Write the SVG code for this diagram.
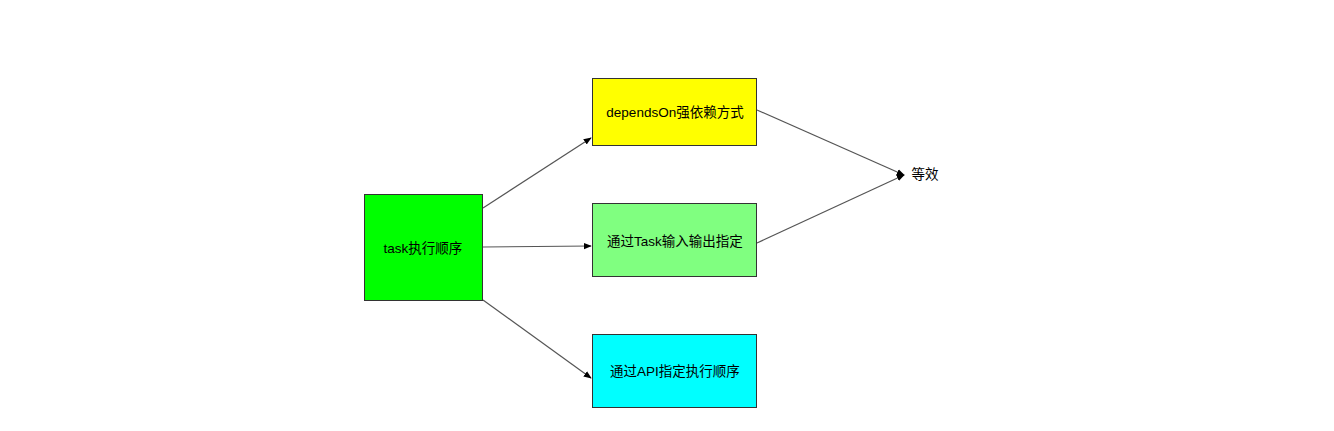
<svg xmlns="http://www.w3.org/2000/svg" width="1334" height="431" viewBox="0 0 1334 431">
<style>
.n{stroke:#333;stroke-width:1}
.t{font-family:"Liberation Sans","Noto Sans CJK SC",sans-serif;font-size:13.5px;fill:#000;text-anchor:middle;dominant-baseline:central}
.c{stroke:#555;stroke-width:1.2;fill:none;marker-end:url(#ah)}
</style>
<defs>
<marker id="ah" viewBox="0 0 10 10" refX="9" refY="5" markerWidth="8" markerHeight="8" markerUnits="userSpaceOnUse" orient="auto">
<path d="M0,1 L10,5 L0,9 Z" fill="#000"/>
</marker>
</defs>
<rect width="1334" height="431" fill="#fff"/>
<g id="connectors">
<line class="c" x1="483" y1="208" x2="591" y2="138"/>
<line class="c" x1="483" y1="247" x2="591" y2="246"/>
<line class="c" x1="483" y1="300" x2="591" y2="378"/>
<line class="c" x1="757" y1="110" x2="904" y2="175"/>
<line class="c" x1="757" y1="243" x2="904" y2="175"/>
</g>
<g id="task">
<rect class="n" x="364.5" y="194.5" width="118" height="106" fill="#00ff00"/>
<text class="t" x="423" y="248">task执行顺序</text>
</g>
<g id="dependsOn">
<rect class="n" x="592.5" y="78.5" width="164" height="67" fill="#ffff00"/>
<text class="t" x="675" y="112">dependsOn强依赖方式</text>
</g>
<g id="io">
<rect class="n" x="592.5" y="203.5" width="164" height="73" fill="#80ff80"/>
<text class="t" x="675" y="241">通过Task输入输出指定</text>
</g>
<g id="api">
<rect class="n" x="592.5" y="334.5" width="164" height="73" fill="#00ffff"/>
<text class="t" x="675" y="371">通过API指定执行顺序</text>
</g>
<g id="equal">
<text class="t" x="925" y="174">等效</text>
</g>
</svg>
